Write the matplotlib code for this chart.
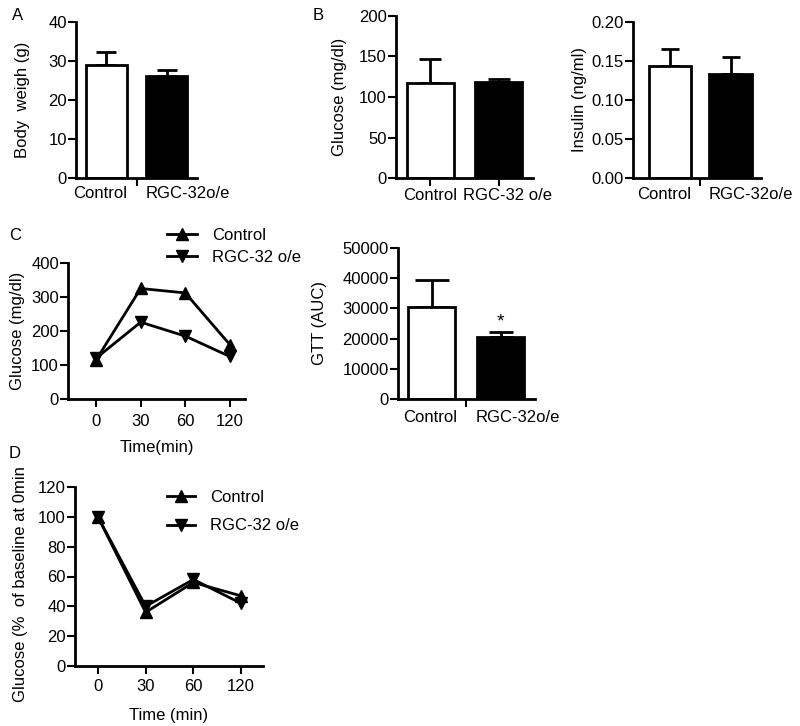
import matplotlib
matplotlib.use('Agg')
import matplotlib.pyplot as plt
import numpy as np

plt.rcParams['font.family'] = ['Liberation Sans', 'DejaVu Sans']
FS = 12
plt.rcParams['font.size'] = FS

# bar panels: control / RGC-32 o/e, mean and upper error
groups = ['Control', 'RGC-32o/e']
body_weight = [29.0, 26.2]
body_weight_err = [3.3, 1.6]
glucose = [117, 119]
glucose_err = [30, 3]
insulin = [0.143, 0.133]
insulin_err = [0.023, 0.022]
gtt_auc = [30500, 20500]
gtt_auc_err = [9000, 1800]

# time course panels
times = ['0', '30', '60', '120']
gtt_control = [115, 325, 312, 160]
gtt_rgc = [120, 226, 185, 125]
pct_control = [100, 36, 56, 47]
pct_rgc = [100, 40, 58, 42]

W, H = 800, 726
fig = plt.figure(figsize=(W / 100, H / 100), dpi=100)
LW = 2.0


def ax_px(x0, y0, x1, y1):
    # pixel box (top-left origin) -> figure axes
    return fig.add_axes([x0 / W, 1 - y1 / H, (x1 - x0) / W, (y1 - y0) / H])


def style(ax):
    for s in ['top', 'right']:
        ax.spines[s].set_visible(False)
    for s in ['left', 'bottom']:
        ax.spines[s].set_linewidth(LW)
    ax.tick_params(width=1.5, length=5.5, labelsize=FS, pad=1)


def ylab(ax, text, xpix, x0, x1, ypos=0.5):
    ax.set_ylabel(text, fontsize=FS)
    ax.yaxis.set_label_coords((xpix - x0) / (x1 - x0), ypos)


def bars(ax, vals, errs, width=0.68, caps=(7, 7)):
    ax.bar([0, 1], vals, width=width, color=['white', 'black'],
           edgecolor='black', linewidth=LW, zorder=2)
    for i in range(2):
        ax.errorbar([i], [vals[i]], yerr=[[0], [errs[i]]], fmt='none', ecolor='black',
                    elinewidth=LW, capsize=caps[i], capthick=LW, zorder=1)


def split_ticks(ax, labels, dy):
    # single tick between bars, labels either side of it
    ax.set_xticks([0.5])
    ax.set_xticklabels([''])
    tr = ax.get_xaxis_transform()
    ax.annotate(labels[0], xy=(0.5, 0), xycoords=tr, xytext=(-6.5, -dy),
                textcoords='offset points', ha='right', va='center', fontsize=FS)
    ax.annotate(labels[1], xy=(0.5, 0), xycoords=tr, xytext=(6.5, -dy),
                textcoords='offset points', ha='left', va='center', fontsize=FS)


# A
ax = ax_px(76, 22, 197, 178)
style(ax)
bars(ax, body_weight, body_weight_err, caps=(7, 7))
ax.set_xlim(-0.5, 1.5)
ax.set_ylim(0, 40)
ax.set_yticks([0, 10, 20, 30, 40])
split_ticks(ax, groups, 11)
ylab(ax, 'Body  weigh (g)', 30, 76, 197)

# B glucose
ax = ax_px(396, 16, 533, 178)
style(ax)
bars(ax, glucose, glucose_err, width=0.69, caps=(8, 8))
ax.set_xlim(-0.5, 1.5)
ax.set_ylim(0, 200)
ax.set_yticks([0, 50, 100, 150, 200])
ax.set_xticks([0, 1])
ax.set_xticklabels(['', ''])
tr = ax.get_xaxis_transform()
ax.annotate('Control', xy=(0, 0), xycoords=tr, xytext=(0, -12.5),
            textcoords='offset points', ha='center', va='center', fontsize=FS)
ax.annotate('RGC-32 o/e', xy=(1.13, 0), xycoords=tr, xytext=(0, -12.5),
            textcoords='offset points', ha='center', va='center', fontsize=FS)
ylab(ax, 'Glucose (mg/dl)', 347, 396, 533)

# B insulin
ax = ax_px(633, 22, 761, 178)
style(ax)
bars(ax, insulin, insulin_err, width=0.69, caps=(6.5, 6.5))
ax.set_xlim(-0.6, 1.5)
ax.set_ylim(0, 0.2)
ax.set_yticks([0, 0.05, 0.10, 0.15, 0.20])
ax.set_yticklabels(['0.00', '0.05', '0.10', '0.15', '0.20'])
split_ticks(ax, groups, 12)
ylab(ax, 'Insulin (ng/ml)', 587, 633, 761)

# C time course
ax = ax_px(68, 263, 245, 399)
style(ax)
xi = np.arange(len(times))
ax.plot(xi, gtt_control, color='black', lw=LW, marker='^', ms=9, label='Control')
ax.plot(xi, gtt_rgc, color='black', lw=LW, marker='v', ms=9, label='RGC-32 o/e')
ax.set_xlim(-0.63, 3.34)
ax.set_ylim(0, 400)
ax.set_yticks([0, 100, 200, 300, 400])
ax.set_xticks(xi)
ax.set_xticklabels(times)
ax.tick_params(axis='x', pad=5)
ax.set_xlabel('Time(min)', fontsize=FS, labelpad=8)
ylab(ax, 'Glucose (mg/dl)', 25, 68, 245)
ax.legend(loc='upper left', bbox_to_anchor=(167 / W, 1 - 228 / H),
          bbox_transform=fig.transFigure, frameon=False, handlelength=1.8,
          handletextpad=0.9, labelspacing=0.4, borderpad=0, borderaxespad=0,
          fontsize=FS, markerscale=0.9)

# C AUC
ax = ax_px(398, 248, 535, 399)
style(ax)
bars(ax, gtt_auc, gtt_auc_err, width=0.68, caps=(12, 8.5))
ax.set_xlim(-0.49, 1.5)
ax.set_ylim(0, 50000)
ax.set_yticks([0, 10000, 20000, 30000, 40000, 50000])
split_ticks(ax, groups, 13.5)
ylab(ax, 'GTT (AUC)', 327, 398, 535)
ax.text(1, gtt_auc[1] + gtt_auc_err[1] + 300, '*', ha='center', va='bottom', fontsize=14)

# D percent of baseline
ax = ax_px(75, 487, 263, 666)
style(ax)
ax.plot(xi, pct_control, color='black', lw=LW, marker='^', ms=9, label='Control')
ax.plot(xi, pct_rgc, color='black', lw=LW, marker='v', ms=9, label='RGC-32 o/e')
ax.set_xlim(-0.48, 3.46)
ax.set_ylim(0, 120)
ax.set_yticks([0, 20, 40, 60, 80, 100, 120])
ax.set_xticks(xi)
ax.set_xticklabels(times)
ax.tick_params(axis='x', pad=4)
ax.set_xlabel('Time (min)', fontsize=FS, labelpad=10)
ylab(ax, 'Glucose (%  of baseline at 0min', 28, 75, 263, ypos=(666 - 584) / (666 - 487))
ax.legend(loc='upper left', bbox_to_anchor=(167 / W, 1 - 490 / H),
          bbox_transform=fig.transFigure, frameon=False, handlelength=1.7,
          handletextpad=0.9, labelspacing=0.8, borderpad=0, borderaxespad=0,
          fontsize=FS, markerscale=0.9)

# panel letters
for letter, x, y in [('A', 18, 15), ('B', 318, 15), ('C', 15, 235), ('D', 15, 453)]:
    fig.text(x / W, 1 - y / H, letter, fontsize=FS, ha='center', va='center')

fig.savefig('out.png', dpi=100)
